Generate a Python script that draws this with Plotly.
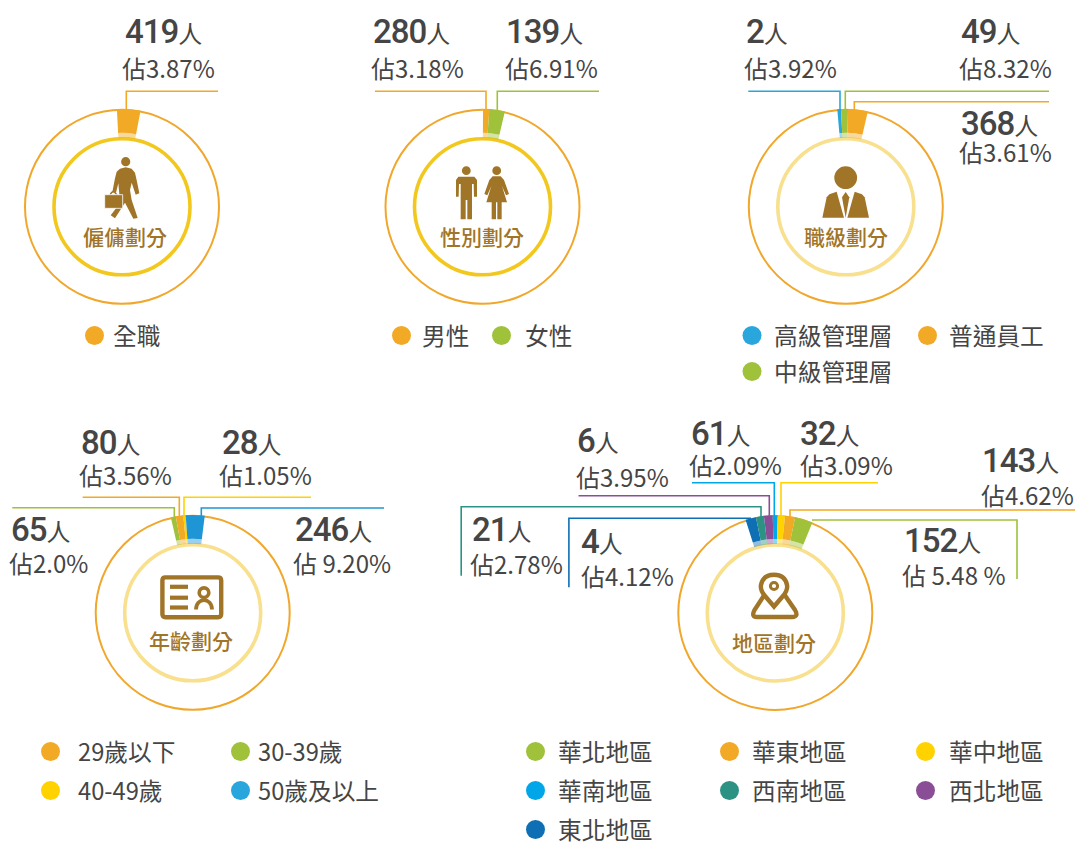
import plotly.graph_objects as go

W, H = 1075, 842

# ---------- data ----------
EMPLOY_CATS = ["全職"]
EMPLOY_COUNTS = [419]
EMPLOY_PCT = ["3.87%"]
EMPLOY_WEDGE = [3.87]

GENDER_CATS = ["男性", "女性"]
GENDER_COUNTS = [280, 139]
GENDER_PCT = ["3.18%", "6.91%"]
GENDER_WEDGE = [1.03, 2.56]

RANK_CATS = ["高級管理層", "中級管理層", "普通員工"]
RANK_COUNTS = [2, 49, 368]
RANK_PCT = ["3.92%", "8.32%", "3.61%"]
RANK_WEDGE = [0.61, 1.14, 3.25]

AGE_CATS = ["30-39歲", "29歲以下", "40-49歲", "50歲及以上"]
AGE_COUNTS = [65, 80, 28, 246]
AGE_PCT = ["2.0%", "3.56%", "1.05%", " 9.20%"]
AGE_WEDGE = [0.83, 1.22, 0.39, 3.11]

REGION_CATS = ["東北地區", "西南地區", "西北地區", "華南地區", "華中地區", "華東地區", "華北地區"]
REGION_COUNTS = [4, 21, 6, 61, 32, 143, 152]
REGION_PCT = ["4.12%", "2.78%", "3.95%", "2.09%", "3.09%", "4.62%", " 5.48 %"]
REGION_WEDGE = [1.75, 1.31, 1.44, 0.81, 1.19, 1.67, 2.94]

# ---------- styles / layout ----------
ORANGE, GREEN, BLUE, YELLOW = "#F2A925", "#9FC23A", "#29A6DC", "#FFD200"
DEEPBLUE, NAVY, TEAL, PURPLE, SKY = "#1E96D6", "#0E6FB4", "#2C9384", "#8A4E96", "#00A6E8"
BROWN = "#A17527"
INK = "#454545"
CJK = "Noto Sans CJK TC"
NUM = "Roboto"
R_OUT, R_MID, R_LOW, R_RING = 97.8, 74, 69, 68

CHARTS = [
    dict(cx=122, cy=206.8, title="僱傭劃分", tx=125, ty=236, ring="#F3C81E", rot=-3,
         wedge=EMPLOY_WEDGE, cols=[ORANGE], counts=EMPLOY_COUNTS, pct=EMPLOY_PCT,
         labels=[(125, 31, 122, 67)]),
    dict(cx=482.5, cy=206.8, title="性別劃分", tx=482, ty=236, ring="#F3C81E", rot=0.3,
         wedge=GENDER_WEDGE, cols=[ORANGE, GREEN], counts=GENDER_COUNTS, pct=GENDER_PCT,
         labels=[(373, 31, 371, 67), (506, 31, 505, 67)]),
    dict(cx=845.8, cy=206.8, title="職級劃分", tx=845.5, ty=236, ring="#F8E08E", rot=-5,
         wedge=RANK_WEDGE, cols=[BLUE, GREEN, ORANGE], counts=RANK_COUNTS, pct=RANK_PCT,
         labels=[(746, 31, 744, 67), (961, 31, 959, 67), (961, 123, 959, 151)]),
    dict(cx=192.7, cy=612.8, title="年齡劃分", tx=191, ty=640, ring="#F8E08E", rot=-12.9,
         wedge=AGE_WEDGE, cols=[GREEN, ORANGE, YELLOW, DEEPBLUE], counts=AGE_COUNTS, pct=AGE_PCT,
         labels=[(11, 529, 9, 562), (81, 442, 79, 474), (222, 442, 219, 474), (295, 529, 293, 562)]),
    dict(cx=775.3, cy=613, title="地區劃分", tx=774.3, ty=641.5, ring="#F8E08E", rot=-17.7,
         wedge=REGION_WEDGE, cols=[NAVY, TEAL, PURPLE, SKY, YELLOW, ORANGE, GREEN],
         counts=REGION_COUNTS, pct=REGION_PCT,
         labels=[(581, 541, 581, 575), (472, 529, 470, 563), (577, 440, 576, 476),
                 (691, 433, 689, 464), (800, 433, 800, 464), (982, 460, 981, 494), (904, 540, 902, 574)]),
]

LEADERS = [
    (ORANGE, [(218, 91.3), (126.3, 91.3), (126.3, 110)]),
    (ORANGE, [(375, 91.3), (486, 91.3), (486, 110)]),
    (GREEN, [(599, 91.3), (497.3, 91.3), (497.3, 111)]),
    (BLUE, [(748.3, 91.3), (840, 91.3), (840, 110)]),
    (GREEN, [(1049, 91.3), (845.3, 91.3), (845.3, 110)]),
    (ORANGE, [(1049, 101.7), (854.3, 101.7), (854.3, 110)]),
    (GREEN, [(12.3, 507.7), (174.3, 507.7), (174.3, 518)]),
    (ORANGE, [(82.7, 497.3), (179.3, 497.3), (179.3, 518)]),
    (YELLOW, [(311, 497.3), (184, 497.3), (184, 518)]),
    (DEEPBLUE, [(384, 508), (201.3, 508), (201.3, 518)]),
    (TEAL, [(461.2, 575.7), (461.2, 506.7), (761, 506.7), (761, 519)]),
    (NAVY, [(568.9, 587.3), (568.9, 518.3), (751, 518.3)]),
    (PURPLE, [(578.5, 495.7), (769.3, 495.7), (769.3, 518)]),
    (SKY, [(692, 482.7), (774.3, 482.7), (774.3, 518)]),
    (YELLOW, [(878, 482.7), (781, 482.7), (781, 518)]),
    (ORANGE, [(1075, 510), (790, 510), (790, 518)]),
    (GREEN, [(812, 520), (1017, 520), (1017, 579)]),
]

LEGENDS = [
    (94.5, 335.5, ORANGE, 113, "全職"),
    (401.5, 335.5, ORANGE, 421.5, "男性"), (501.5, 335.5, GREEN, 524.5, "女性"),
    (752, 335.5, BLUE, 773.5, "高級管理層"), (927.5, 335.5, ORANGE, 948.5, "普通員工"),
    (752, 371.5, GREEN, 773.5, "中級管理層"),
    (50.5, 751.5, ORANGE, 77.5, "29歲以下"), (240.5, 751.5, GREEN, 257.5, "30-39歲"),
    (50.5, 790.5, YELLOW, 77.5, "40-49歲"), (240.5, 790.5, BLUE, 257.5, "50歲及以上"),
    (535.5, 751.5, GREEN, 557.5, "華北地區"), (729.5, 751.5, ORANGE, 751.5, "華東地區"), (925.5, 751.5, YELLOW, 948.5, "華中地區"),
    (535.5, 790.5, SKY, 557.5, "華南地區"), (729.5, 790.5, TEAL, 751.5, "西南地區"), (925.5, 790.5, PURPLE, 948.5, "西北地區"),
    (535.5, 829.5, NAVY, 557.5, "東北地區"),
]

fig = go.Figure()
shapes, annos = [], []


def text(x, y, s, size, color=INK, family=CJK, anchor="left", weight=None):
    f = dict(size=size, color=color, family=family)
    if weight:
        f["weight"] = weight
    annos.append(dict(x=x, y=y, xref="x", yref="y", text=s, showarrow=False, xanchor=anchor,
                      yanchor="middle", font=f, borderpad=0, borderwidth=0))


def circle(cx, cy, r, line=None, lw=0, fill=None, layer="below"):
    shapes.append(dict(type="circle", xref="x", yref="y", x0=cx - r, x1=cx + r, y0=cy - r, y1=cy + r,
                       line=dict(color=line or "rgba(0,0,0,0)", width=lw),
                       fillcolor=fill or "rgba(0,0,0,0)", layer=layer))


def path(d, fill=BROWN, line=None, lw=0):
    shapes.append(dict(type="path", xref="x", yref="y", path=d, fillcolor=fill,
                       line=dict(color=line or "rgba(0,0,0,0)", width=lw), layer="above"))


def poly(points, ox=0, oy=0, k=1 / 3, fill=BROWN, line=None, lw=0):
    d = "M" + " L".join(f"{ox + px * k:.2f},{oy + py * k:.2f}" for px, py in points) + " Z"
    path(d, fill=fill, line=line, lw=lw)


def rgba(c, a):
    return f"rgba({int(c[1:3], 16)},{int(c[3:5], 16)},{int(c[5:7], 16)},{a})"


def pie(c, r, hole, alpha):
    vals = c["wedge"] + [100 - sum(c["wedge"])]
    cols = [rgba(col, alpha) for col in c["cols"]] + ["rgba(0,0,0,0)"]
    fig.add_trace(go.Pie(values=vals, marker=dict(colors=cols, line=dict(width=0)), sort=False,
                         direction="clockwise", rotation=c["rot"], hole=hole, textinfo="none",
                         hoverinfo="skip", showlegend=False,
                         domain=dict(x=[(c["cx"] - r) / W, (c["cx"] + r) / W],
                                     y=[1 - (c["cy"] + r) / H, 1 - (c["cy"] - r) / H])))


# legend dots are a real scatter trace
fig.add_trace(go.Scatter(x=[l[0] for l in LEGENDS], y=[l[1] for l in LEGENDS], mode="markers",
                         marker=dict(size=19, color=[l[2] for l in LEGENDS], line=dict(width=0)),
                         hoverinfo="skip", showlegend=False))
for l in LEGENDS:
    text(l[3], l[1] - 0.6, l[4], 23.7)

for c in CHARTS:
    circle(c["cx"], c["cy"], R_OUT - 0.8, line="#F0A72B", lw=2)
    circle(c["cx"], c["cy"], R_RING, line=c["ring"], lw=3.6)
    pie(c, R_OUT, R_MID / R_OUT, 1)
    pie(c, R_MID, R_LOW / R_MID, 0.45)
    text(c["tx"], c["ty"], c["title"], 21, color=BROWN, anchor="center", weight=500)
    for n, p, (nx, ny, px, py) in zip(c["counts"], c["pct"], c["labels"]):
        text(nx, ny,
             f"<span style='font-family:{NUM};font-size:33px;font-weight:500;letter-spacing:-1px'>{n}</span>"
             f"<span style='font-family:{CJK};font-size:24px'>人</span>", 24)
        text(px, py, f"佔{p}", 24)

for col, pts in LEADERS:
    d = "M" + " L".join(f"{x},{y}" for x, y in pts)
    shapes.append(dict(type="path", xref="x", yref="y", path=d, fillcolor="rgba(0,0,0,0)",
                       line=dict(color=col, width=1.6), layer="below"))

# icon: walker
circle(125.7, 161.7, 4.6, fill=BROWN, layer="above")
poly([(107, 52), (125, 56), (135, 68), (141, 95), (148, 130), (137, 134), (125, 98), (120, 120), (125, 150),
      (143, 204), (130, 206), (105, 158), (75, 205), (62, 196), (90, 160), (88, 133), (85, 100), (78, 128),
      (67, 126), (75, 85), (80, 65), (90, 56)], 90, 150)
path("M110,195 Q111.5,191.5 114,191.5 L117,195", fill="rgba(0,0,0,0)", line=BROWN, lw=1.4)
poly([(44, 134), (98, 134), (98, 175), (44, 175)], 90, 150, line="white", lw=0.8)
# icon: man / woman
circle(466.3, 170.7, 4.4, fill=BROWN, layer="above")
poly([(295, 530), (343, 530), (351, 540), (351, 590), (342, 590), (341, 552), (336, 552), (336, 658), (322, 658),
      (322, 600), (317, 600), (317, 658), (302, 658), (302, 552), (297, 552), (296, 590), (288, 590), (288, 540)], 360, 0)
circle(496.7, 170.7, 4.4, fill=BROWN, layer="above")
poly([(398, 529), (422, 529), (432, 540), (447, 582), (438, 586), (426, 558), (441, 607), (425, 607), (425, 658),
      (412, 658), (412, 607), (408, 607), (408, 658), (395, 658), (395, 607), (379, 607), (394, 558), (382, 586), (373, 582), (388, 540)], 360, 0)
# icon: executive
circle(845.7, 177.7, 11.4, fill=BROWN, layer="above")
poly([(277, 653), (290, 592), (298, 583), (320, 575), (342, 653)], 730, 0)
poly([(417, 653), (404, 592), (396, 583), (374, 575), (352, 653)], 730, 0)
poly([(347, 576), (358, 592), (347, 653), (336, 592)], 730, 0)
# icon: id card
path("M165.5,577.4 H218 Q221.2,577.4 221.2,580.6 V614 Q221.2,617.2 218,617.2 H165.5 Q162.4,617.2 162.4,614 V580.6 Q162.4,577.4 165.5,577.4 Z",
     fill="rgba(0,0,0,0)", line=BROWN, lw=4.4)
for yy in (586.8, 597.7, 607.5):
    path(f"M170,{yy} H188", fill="rgba(0,0,0,0)", line=BROWN, lw=4.2)
circle(204, 592.7, 4.8, line=BROWN, lw=3.6, layer="above")
path("M196,609.5 C196,597 212,597 212,609.5", fill="rgba(0,0,0,0)", line=BROWN, lw=3.8)
# icon: pin
path("M765,594 L754.5,610 Q751,617 757,617 H792 Q799,617 795,610 L784,594",
     fill="rgba(0,0,0,0)", line=BROWN, lw=4.4)
path("M774,606.5 L765,596 Q760,590 761,585 Q763,574.8 774,574.8 Q785,574.8 787,585 Q788,590 783,596 Z",
     fill="white", line=BROWN, lw=4.4)
circle(774, 586, 3.6, line=BROWN, lw=3, layer="above")

fig.update_layout(width=W, height=H, margin=dict(l=0, r=0, t=0, b=0), paper_bgcolor="white",
                  plot_bgcolor="white", showlegend=False, shapes=shapes, annotations=annos,
                  xaxis=dict(range=[0, W], visible=False, fixedrange=True),
                  yaxis=dict(range=[H, 0], visible=False, fixedrange=True))
fig.write_html("out.html", config=dict(displayModeBar=False),
               post_script="document.body.style.margin='0';document.documentElement.style.overflow='hidden';")
